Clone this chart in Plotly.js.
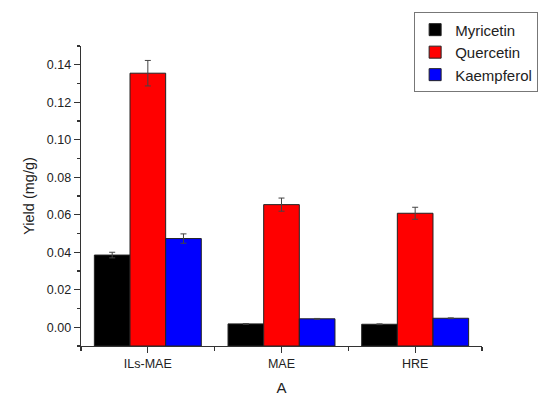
<!DOCTYPE html>
<html>
<head>
<meta charset="utf-8">
<script src="https://cdn.plot.ly/plotly-3.0.1.min.js"></script>
<style>
  html, body { margin: 0; padding: 0; background: #fff; }
  #chart { width: 550px; height: 401px; }
</style>
</head>
<body>
<div id="chart"></div>
<script>
// extraction methods on the x axis
var methods = ["ILs-MAE", "MAE", "HRE"];

// yields in mg/g
var myricetin = [0.0385, 0.0018, 0.0016];
var quercetin = [0.1355, 0.0654, 0.0608];
var kaempferol = [0.0473, 0.0045, 0.0048];

// standard deviations (error bars)
var myricetinErr = [0.0015, 0.0002, 0.0002];
var quercetinErr = [0.0068, 0.0035, 0.0032];
var kaempferolErr = [0.0025, 0.0002, 0.0002];

// bars start at the bottom of the axis, like the Origin plot
var yBottom = -0.01;
var pos = methods.map(function (m, i) { return i; });

function barTrace(name, vals, errs, color) {
  return {
    type: "bar",
    name: name,
    x: pos,
    y: vals.map(function (v) { return v - yBottom; }),
    base: yBottom,
    marker: { color: color, line: { color: "#222", width: 1 } },
    error_y: { type: "data", array: errs, visible: true, color: "#444", thickness: 1, width: 3 },
    hoverinfo: "skip"
  };
}

var data = [
  barTrace("Myricetin", myricetin, myricetinErr, "#000000"),
  barTrace("Quercetin", quercetin, quercetinErr, "#ff0000"),
  barTrace("Kaempferol", kaempferol, kaempferolErr, "#0000ff")
];

var layout = {
  width: 550,
  height: 401,
  margin: { l: 81, r: 64, t: 43, b: 55 },
  paper_bgcolor: "#ffffff",
  plot_bgcolor: "#ffffff",
  font: { family: "Liberation Sans, Arial, sans-serif", color: "#222" },
  barmode: "group",
  bargap: 0.2,
  bargroupgap: 0,
  showlegend: true,
  legend: {
    x: 1.14, xanchor: "right", y: 1.112, yanchor: "top",
    bordercolor: "#777", borderwidth: 1, bgcolor: "#ffffff",
    font: { size: 15, color: "#222" }
  },
  xaxis: {
    range: [-0.5, 2.5],
    tickmode: "array",
    tickvals: pos,
    ticktext: methods,
    ticks: "outside", ticklen: 6, tickwidth: 1.2, tickcolor: "#333",
    minor: { tickmode: "linear", tick0: 0.5, dtick: 1, ticks: "outside", ticklen: 4, tickcolor: "#333", showgrid: false },
    showline: true, linecolor: "#333", linewidth: 1.3,
    showgrid: false, zeroline: false,
    tickfont: { size: 12.5 },
    title: { text: "A", font: { size: 15 }, standoff: 12 }
  },
  yaxis: {
    range: [-0.01, 0.15],
    tick0: 0, dtick: 0.02,
    tickformat: ".2f",
    ticks: "outside", ticklen: 6, tickwidth: 1.2, tickcolor: "#333",
    minor: { tick0: 0, dtick: 0.01, ticks: "outside", ticklen: 3, tickcolor: "#333", showgrid: false },
    showline: true, linecolor: "#333", linewidth: 1.3,
    showgrid: false, zeroline: false,
    tickfont: { size: 12.5 },
    title: { text: "Yield (mg/g)", font: { size: 14.5 }, standoff: 8 }
  }
};

Plotly.newPlot("chart", data, layout, { displayModeBar: false, staticPlot: true });
</script>
</body>
</html>
